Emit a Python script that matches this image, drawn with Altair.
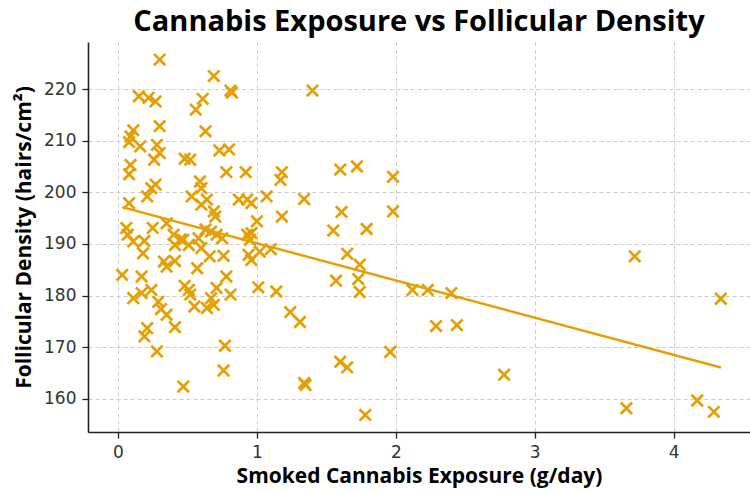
import altair as alt
import pandas as pd

# Daily smoked cannabis exposure (g/day) for each participant
exposure = [
    0.30, 0.69, 0.81, 0.82, 1.40, 0.15, 0.22, 0.27, 0.61, 0.56,
    0.30, 0.11, 0.63, 0.09, 0.08, 0.28, 0.16, 0.73, 0.80, 0.30,
    0.26, 0.48, 0.52, 0.09, 1.72, 1.60, 0.78, 0.92, 1.18, 0.08,
    1.17, 1.98, 0.59, 0.27, 0.24, 0.60, 0.21, 0.53, 1.07, 1.34,
    0.64, 0.87, 0.93, 0.08, 0.96, 0.60, 0.69, 1.61, 1.98, 0.70,
    1.18, 1.00, 0.35, 0.06, 0.25, 0.63, 1.55, 1.79, 0.67, 0.96,
    0.07, 0.40, 0.71, 0.93, 0.75, 0.58, 0.45, 0.47, 0.19, 0.11,
    0.95, 0.41, 0.51, 0.60, 1.10, 1.02, 0.18, 0.94, 1.65, 3.72,
    0.66, 0.76, 0.96, 0.33, 0.41, 1.74, 0.35, 0.57, 0.03, 0.17,
    0.78, 1.57, 1.73, 0.48, 0.51, 0.24, 0.71, 1.01, 1.14, 2.12,
    2.23, 1.74, 2.40, 0.17, 0.52, 0.81, 0.11, 0.67, 4.34, 0.29,
    0.69, 0.55, 0.31, 0.64, 0.35, 1.24, 1.31, 0.41, 0.21, 2.29,
    2.44, 0.19, 0.77, 0.28, 1.96, 1.60, 1.65, 0.76, 2.78, 1.34,
    1.35, 0.47, 4.17, 3.66, 4.29, 1.78,
]

# Follicular density (hairs/cm²) for the same participants
density = [
    225.7, 222.5, 219.7, 219.3, 219.7, 218.6, 218.3, 217.6, 218.1, 216.0,
    212.8, 212.0, 211.8, 210.8, 209.7, 209.2, 208.9, 208.1, 208.3, 207.6,
    206.3, 206.5, 206.3, 205.3, 205.0, 204.4, 203.9, 203.9, 203.9, 203.5,
    202.4, 203.0, 202.1, 201.5, 200.8, 200.8, 199.2, 199.2, 199.2, 198.7,
    198.6, 198.6, 198.6, 197.9, 197.9, 197.6, 196.3, 196.2, 196.3, 195.3,
    195.3, 194.4, 194.0, 193.1, 193.1, 192.8, 192.6, 192.9, 192.4, 192.1,
    191.8, 191.8, 191.8, 191.8, 191.1, 191.1, 190.9, 190.8, 190.6, 190.5,
    190.8, 189.8, 189.8, 189.2, 189.0, 188.5, 188.2, 187.9, 188.1, 187.6,
    187.6, 187.7, 186.9, 186.6, 186.7, 186.0, 185.6, 185.3, 184.0, 183.7,
    183.7, 182.9, 183.2, 181.9, 181.1, 181.1, 181.5, 181.6, 180.8, 181.1,
    181.1, 180.7, 180.5, 180.5, 180.2, 180.2, 179.5, 179.5, 179.4, 178.8,
    178.2, 177.9, 177.4, 177.6, 176.3, 176.8, 174.9, 173.9, 173.7, 174.1,
    174.3, 172.1, 170.3, 169.2, 169.1, 167.2, 166.1, 165.5, 164.7, 163.1,
    162.7, 162.4, 159.7, 158.2, 157.5, 156.9,
]

x_ticks = [0, 1, 2, 3, 4]
y_ticks = [160, 170, 180, 190, 200, 210, 220]

df = pd.DataFrame({"exposure": exposure, "density": density})

ORANGE = "#E69F00"
FONT = "DejaVu Sans"
TITLE_FONT = "Open Sans"

x_enc = alt.X(
    "exposure:Q",
    scale=alt.Scale(domain=[-0.216, 4.55], nice=False, zero=False),
    axis=alt.Axis(values=x_ticks, title="Smoked Cannabis Exposure (g/day)", format="d"),
)
y_enc = alt.Y(
    "density:Q",
    scale=alt.Scale(domain=[153.6, 229.1], nice=False, zero=False),
    axis=alt.Axis(values=y_ticks, title="Follicular Density (hairs/cm²)"),
)

# "x"-shaped marker drawn as a custom symbol path
X_SHAPE = "M-1,-1L1,1M-1,1L1,-1"

points = alt.Chart(df).mark_point(
    shape=X_SHAPE, filled=False, stroke=ORANGE, strokeWidth=2.7, size=130, opacity=1
).encode(x=x_enc, y=y_enc)

# Least-squares trend line across the observed exposure range
trend = (
    alt.Chart(df)
    .transform_regression("exposure", "density")
    .mark_line(color=ORANGE, strokeWidth=2.5)
    .encode(x="exposure:Q", y="density:Q")
)

chart = (
    alt.layer(points, trend)
    .properties(
        width=662,
        height=390,
        autosize=alt.AutoSizeParams(type="none"),
        padding={"left": 88, "top": 42, "right": 0, "bottom": 60},
        title=alt.TitleParams(
            "Cannabis Exposure vs Follicular Density",
            font=TITLE_FONT,
            fontSize=29,
            fontWeight="bold",
            color="#000000",
            anchor="middle",
            offset=5,
        ),
    )
    .configure_view(stroke=None)
    .configure_axis(
        grid=True,
        gridColor="#cccccc",
        gridDash=[4, 3],
        gridWidth=1,
        domainColor="#222222",
        domainWidth=1.6,
        tickColor="#222222",
        tickSize=6,
        tickWidth=1.3,
        labelFont=FONT,
        labelFontSize=17,
        labelColor="#333333",
        labelPadding=6,
        titleFont=TITLE_FONT,
        titleFontSize=21,
        titleFontWeight="bold",
        titleColor="#000000",
    )
    .configure_axisX(titlePadding=5)
    .configure_axisY(titlePadding=9)
)

chart.save("out.html", embed_options={"renderer": "svg", "actions": False})
